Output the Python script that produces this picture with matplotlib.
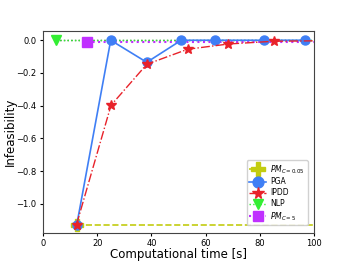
import numpy as np
import matplotlib
matplotlib.use('Agg')
import matplotlib.pyplot as plt

# data
pga_t = [12.5, 25.0, 38.3, 51.0, 63.5, 81.7, 96.7]
pga_f = [-1.127, 0.0, -0.135, 0.0, 0.0, 0.0, 0.0]

ipdd_t = [12.4, 25.1, 38.3, 53.4, 68.4, 85.3, 110.0]
ipdd_f = [-1.127, -0.398, -0.147, -0.055, -0.023, -0.006, -0.002]

nlp_t = [5.0, 120.0]
nlp_f = [0.0, 0.0]

pm5_t = [16.3, 120.0]
pm5_f = [-0.012, -0.012]

pm005_t = [12.5, 120.0]
pm005_f = [-1.127, -1.127]

fig = plt.figure(figsize=(3.49, 2.62), dpi=100)
ax = fig.add_axes([0.123, 0.11, 0.777, 0.772])

ax.plot(nlp_t, nlp_f, color='#225522', linestyle=':', linewidth=1.0, zorder=1)
ax.plot(pm005_t, pm005_f, color='#c2cc10', linestyle='--', linewidth=1.2,
        marker='P', markersize=8, markevery=[0], label=r'$PM_{C=0.05}$', zorder=2)
ax.plot(pga_t, pga_f, color='#3f7ff5', linestyle='-', linewidth=1.2,
        marker='o', markersize=6.5, label='PGA', zorder=3)
ax.plot(ipdd_t, ipdd_f, color='#e8222a', linestyle='-.', linewidth=1.0,
        marker='*', markersize=7, label='IPDD', zorder=4)
ax.plot(nlp_t, nlp_f, color='#33ee33', linestyle=':', linewidth=1.0,
        marker='v', markersize=6.5, markevery=[0], label='NLP', zorder=2)
ax.plot(pm5_t, pm5_f, color='#c030ff', linestyle=':', linewidth=1.5,
        marker='s', markersize=6.5, markevery=[0], label=r'$PM_{C=5}$', zorder=2)

ax.set_xlim(0, 100)
ax.set_ylim(-1.18, 0.057)
ax.set_xticks([0, 20, 40, 60, 80, 100])
ax.set_yticks([0.0, -0.2, -0.4, -0.6, -0.8, -1.0])
ax.tick_params(labelsize=6, length=2.5, pad=2)
ax.set_xlabel('Computational time [s]', fontsize=8.5, labelpad=0)
ax.set_ylabel('Infeasibility', fontsize=8.5, labelpad=0)

for s in ax.spines.values():
    s.set_color('#444444')

ax.legend(loc='lower right', fontsize=5.5, handlelength=2.2, labelspacing=0.25,
          borderpad=0.35, handletextpad=0.5, framealpha=0.9, markerscale=1.2,
          bbox_to_anchor=(0.99, 0.02))

fig.savefig('out.png', dpi=100)
